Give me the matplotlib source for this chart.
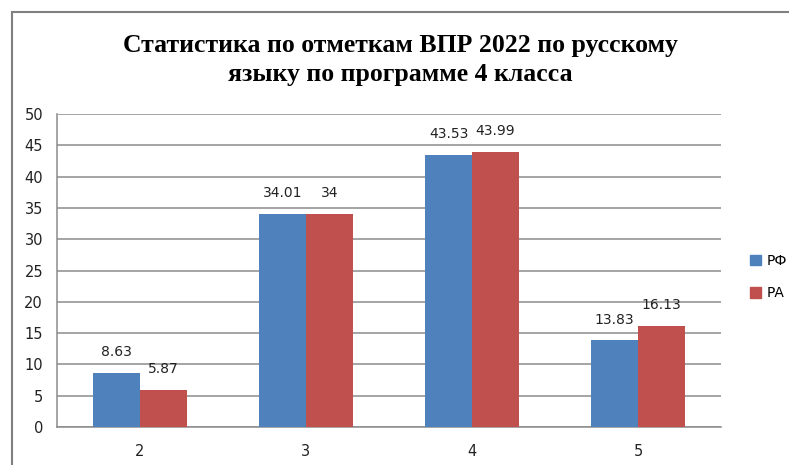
import numpy as np
import matplotlib
matplotlib.use("Agg")
import matplotlib.pyplot as plt
from matplotlib.patches import Rectangle
from matplotlib.lines import Line2D

# marks (grades) and percent of pupils
GRADES = ["2", "3", "4", "5"]
RF = [8.63, 34.01, 43.53, 13.83]
RA = [5.87, 34, 43.99, 16.13]
SERIES = ["РФ", "РА"]
TITLE = "Статистика по отметкам ВПР 2022 по русскому\nязыку по программе 4 класса"

BLUE = "#4F81BD"
RED = "#C0504D"
GRID = "#8c8c8c"

fig = plt.figure(figsize=(7.89, 4.65), dpi=100)
ax = fig.add_axes([57 / 789, 1 - 427 / 465, 664 / 789, 313 / 465])

x = np.arange(len(GRADES))
w = 0.283
b1 = ax.bar(x - w / 2, RF, w, color=BLUE, zorder=3)
b2 = ax.bar(x + w / 2, RA, w, color=RED, zorder=3)

for bars in (b1, b2):
    for r in bars:
        h = r.get_height()
        txt = "%g" % h
        ax.annotate(txt, (r.get_x() + r.get_width() / 2, h),
                    xytext=(0, 15), textcoords="offset points",
                    ha="center", va="center", fontsize=10, color="#222222")

ax.set_xlim(-0.5, len(GRADES) - 0.5)
ax.set_ylim(0, 50)
ax.set_yticks(range(0, 51, 5))
ax.set_xticks(x)
ax.set_xticklabels(GRADES)
ax.yaxis.grid(True, color=GRID, lw=1.1, zorder=0)
ax.tick_params(axis="both", length=0, labelsize=10.5, colors="#222222")
ax.tick_params(axis="x", pad=12)
ax.tick_params(axis="y", pad=10)
for s in ("top", "right"):
    ax.spines[s].set_visible(False)
for s in ("left", "bottom"):
    ax.spines[s].set_color(GRID)
    ax.spines[s].set_linewidth(1.1)

handles = [Rectangle((0, 0), 1, 1, color=BLUE), Rectangle((0, 0), 1, 1, color=RED)]
fig.legend(handles, SERIES, loc="center left", bbox_to_anchor=(750 / 789, 1 - 277 / 465),
           frameon=False, fontsize=10, handlelength=0.8, handleheight=0.8,
           handletextpad=0.4, labelspacing=1.3, borderpad=0, borderaxespad=0)

fig.text(400 / 789, 1 - 60 / 465, TITLE, ha="center", va="center",
         family="Liberation Serif", fontweight="bold", fontsize=18.5, linespacing=1.3)

# outer chart frame
fig.add_artist(Line2D([12 / 789, 1], [1 - 12 / 465, 1 - 12 / 465],
                      transform=fig.transFigure, color="#808080", lw=1.5))
fig.add_artist(Line2D([12 / 789, 12 / 789], [0, 1 - 12 / 465],
                      transform=fig.transFigure, color="#808080", lw=1.5))

fig.savefig("out.png", dpi=100)
